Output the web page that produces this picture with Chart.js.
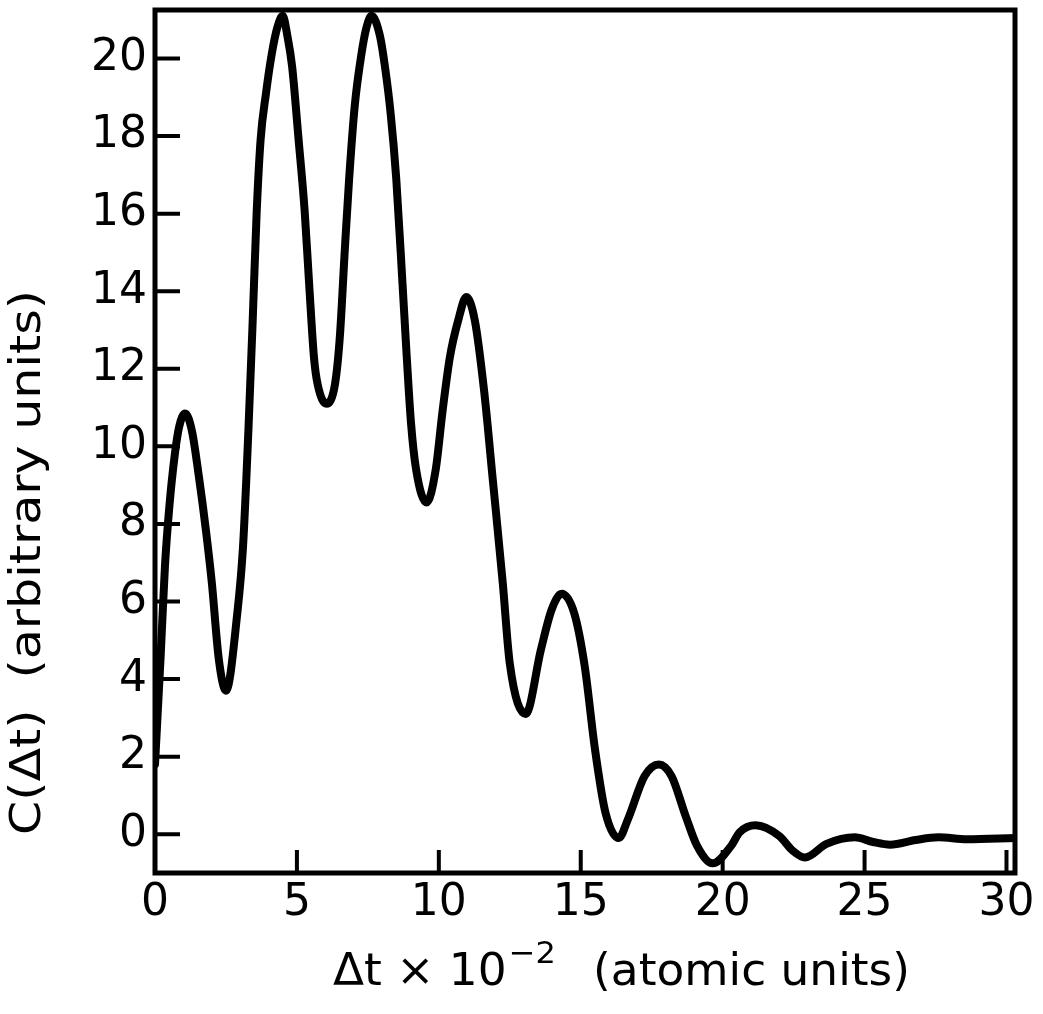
<!DOCTYPE html>
<html>
<head>
<meta charset="utf-8">
<title>C(Δt)</title>
<script src="https://cdn.jsdelivr.net/npm/chart.js@4.4.1/dist/chart.umd.min.js"></script>
<style>
  html, body { margin: 0; padding: 0; background: #ffffff; }
  #wrap { width: 1043px; height: 1014px; position: relative; }
  canvas { display: block; }
</style>
</head>
<body>
<div id="wrap"><canvas id="chart" width="1043" height="1014"></canvas></div>
<script>
// Correlation function C(Δt) against Δt (units of 10^2 atomic units)
const dt = [
  0, 0.2, 0.35, 0.5, 0.7, 0.85, 1.06, 1.3, 1.55, 1.8, 2.0, 2.25, 2.5,
  2.9, 3.1, 3.29, 3.44, 3.58, 3.72, 3.91, 4.11, 4.31, 4.5,
  4.66, 4.83, 5.06, 5.27, 5.43, 5.6, 5.73, 6.04,
  6.34, 6.51, 6.69, 6.84, 7.04, 7.27, 7.45, 7.63,
  7.92, 8.1, 8.3, 8.5, 8.72, 8.87, 9.02, 9.2, 9.57,
  9.89, 10.13, 10.39, 10.68, 10.97, 11.27, 11.6,
  11.9, 12.25, 12.5, 13.06, 13.6, 13.98, 14.33, 14.77, 15.14, 15.5, 15.87, 16.34,
  16.66, 17.25, 17.75, 18.2, 18.7, 19.1, 19.65, 20.3, 20.6, 21.16, 22.0, 22.46,
  22.9, 23.66, 24.65, 25.3, 25.9, 26.8, 27.6, 28.6, 30.3
];
const corr = [
  1.8, 4.6, 6.9, 8.4, 9.8, 10.5, 10.85, 10.4, 9.2, 7.8, 6.5, 4.5, 3.7,
  5.7, 7.4, 10.4, 13.2, 16.0, 17.9, 19.1, 20.1, 20.8, 21.1,
  20.6, 19.8, 17.9, 16.1, 14.2, 12.3, 11.6, 11.1,
  11.6, 12.8, 15.1, 16.9, 18.8, 20.1, 20.8, 21.1,
  20.6, 19.8, 18.6, 16.9, 14.2, 12.3, 10.6, 9.4, 8.55,
  9.4, 10.9, 12.3, 13.24, 13.85, 13.24, 11.4,
  9.15, 6.5, 4.4, 3.1, 4.77, 5.8, 6.2, 5.7, 4.33, 2.2, 0.56, -0.1,
  0.38, 1.5, 1.8, 1.5, 0.46, -0.3, -0.75, -0.3, 0.05, 0.23, -0.05, -0.42,
  -0.6, -0.25, -0.08, -0.2, -0.27, -0.15, -0.08, -0.13, -0.1
];
const xTicks = [0, 5, 10, 15, 20, 25, 30];
const yTicks = [0, 2, 4, 6, 8, 10, 12, 14, 16, 18, 20];
const yTitle = 'C(\u0394t)  (arbitrary units)';
const xTitleMain = '\u0394t \u00d7 10';
const xTitleExp = '\u22122';
const xTitleUnits = '(atomic units)';

const FONT = "'DejaVu Sans', 'Liberation Sans', sans-serif";

// Frame, inward tick marks and axis titles
const decor = {
  id: 'decor',
  beforeDatasetsDraw(chart) {
    const { ctx, chartArea: a, scales } = chart;
    ctx.save();
    ctx.strokeStyle = '#000';
    ctx.lineCap = 'butt';
    ctx.lineWidth = 5;
    ctx.strokeRect(a.left, a.top, a.right - a.left, a.bottom - a.top);
    ctx.lineWidth = 4;
    ctx.beginPath();
    yTicks.forEach(v => {
      const y = scales.y.getPixelForValue(v);
      ctx.moveTo(a.left, y);
      ctx.lineTo(a.left + 25, y);
    });
    xTicks.forEach(v => {
      const x = scales.x.getPixelForValue(v);
      ctx.moveTo(x, a.bottom);
      ctx.lineTo(x, a.bottom - 23);
    });
    ctx.stroke();
    ctx.restore();
  },
  afterDraw(chart) {
    const { ctx } = chart;
    ctx.save();
    ctx.fillStyle = '#000';

    // vertical title
    ctx.font = '42px ' + FONT;
    ctx.textAlign = 'left';
    ctx.textBaseline = 'middle';
    const wY = ctx.measureText(yTitle).width;
    ctx.translate(29, 835);
    ctx.rotate(-Math.PI / 2);
    ctx.scale(545 / wY, 1);
    ctx.fillText(yTitle, 0, 0);
    ctx.restore();

    // horizontal title with exponent
    ctx.save();
    ctx.fillStyle = '#000';
    ctx.textAlign = 'left';
    ctx.textBaseline = 'alphabetic';
    ctx.font = '44px ' + FONT;
    const w1 = ctx.measureText(xTitleMain).width;
    const w3 = ctx.measureText(xTitleUnits).width;
    const gap = 36;
    ctx.font = '31px ' + FONT;
    const w2 = ctx.measureText(xTitleExp).width;
    const total = w1 + 2 + w2 + gap + w3;
    const sx = 577 / total;
    ctx.translate(333, 985);
    ctx.scale(sx, 1);
    ctx.font = '44px ' + FONT;
    ctx.fillText(xTitleMain, 0, 0);
    ctx.font = '31px ' + FONT;
    ctx.fillText(xTitleExp, w1 + 2, -22);
    ctx.font = '44px ' + FONT;
    ctx.fillText(xTitleUnits, w1 + 2 + w2 + gap, 0);
    ctx.restore();
  }
};

new Chart(document.getElementById('chart'), {
  type: 'line',
  data: {
    datasets: [{
      data: dt.map((x, i) => ({ x: x, y: corr[i] })),
      borderColor: '#000000',
      borderWidth: 8,
      pointRadius: 0,
      fill: false,
      cubicInterpolationMode: 'monotone',
      borderCapStyle: 'round',
      borderJoinStyle: 'round'
    }]
  },
  options: {
    responsive: false,
    animation: false,
    devicePixelRatio: 1,
    layout: { padding: { top: 10, right: 28, bottom: 0, left: 0 } },
    plugins: { legend: { display: false }, tooltip: { enabled: false } },
    scales: {
      x: {
        type: 'linear',
        min: 0,
        max: 30.3,
        afterBuildTicks: s => { s.ticks = xTicks.map(v => ({ value: v })); },
        afterFit: s => { s.height = 141; s.paddingLeft = 0; s.paddingRight = 0; },
        ticks: {
          color: '#000',
          font: { family: FONT, size: 44 },
          padding: 4,
          maxRotation: 0,
          autoSkip: false
        },
        grid: { display: false, drawTicks: false },
        border: { display: false }
      },
      y: {
        type: 'linear',
        min: -1,
        max: 21.25,
        afterBuildTicks: s => { s.ticks = yTicks.map(v => ({ value: v })); },
        afterFit: s => { s.width = 155; s.paddingTop = 0; s.paddingBottom = 0; },
        ticks: {
          color: '#000',
          font: { family: FONT, size: 44 },
          padding: 8,
          autoSkip: false
        },
        grid: { display: false, drawTicks: false },
        border: { display: false }
      }
    }
  },
  plugins: [decor]
});
</script>
</body>
</html>
